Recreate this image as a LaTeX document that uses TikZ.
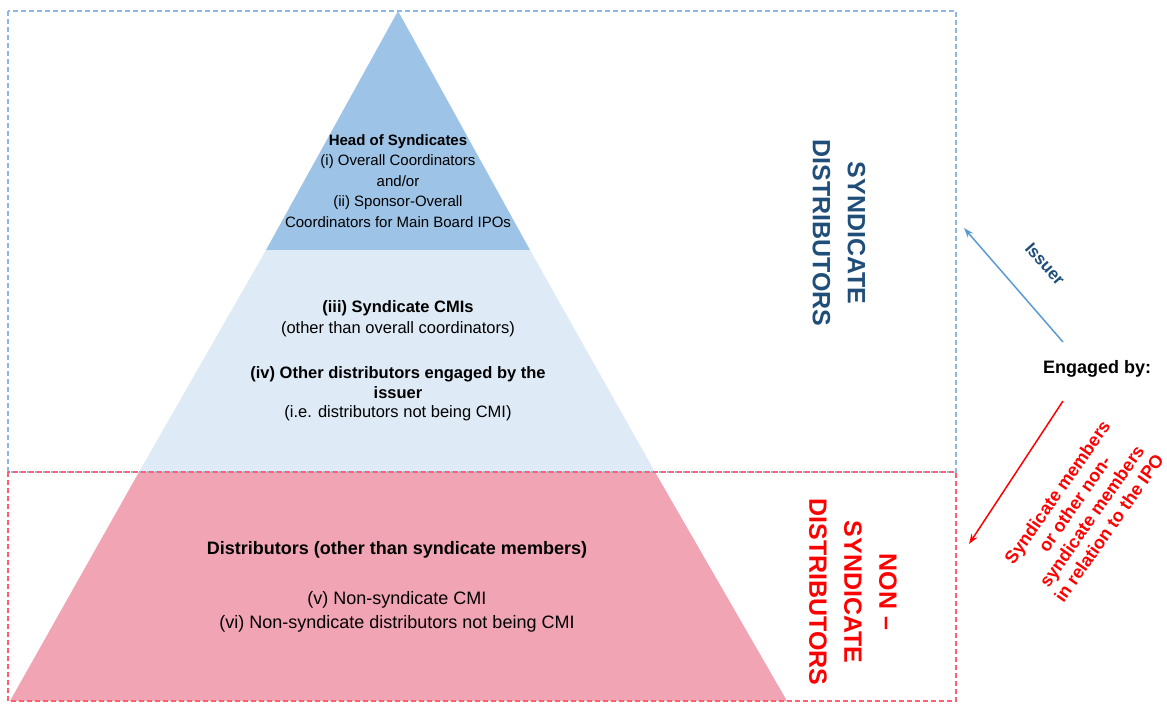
\documentclass[tikz,border=0pt]{standalone}
\usepackage{fontspec}
\setmainfont{Liberation Sans}
\usetikzlibrary{arrows.meta}

\definecolor{tierTop}{HTML}{9DC3E6}
\definecolor{tierMid}{HTML}{DEEBF7}
\definecolor{tierLow}{HTML}{F1A4B4}
\definecolor{synLine}{HTML}{8DB8E2}
\definecolor{nonLine}{HTML}{FF6070}
\definecolor{synText}{HTML}{1F4E79}
\definecolor{issuerLine}{HTML}{5B9BD5}
\definecolor{nonText}{HTML}{FF0000}

\begin{document}
\begin{tikzpicture}[x=1pt,y=-1pt,
  synbox/.style={draw=synLine,line width=1.2pt,dash pattern=on 5pt off 3pt},
  nonbox/.style={draw=nonLine,line width=1.2pt,dash pattern=on 5pt off 3pt},
  tiertext/.style={align=center,inner sep=0pt,text=black},
  sidelabel/.style={align=center,inner sep=0pt,rotate=-90,font=\fontsize{25}{35}\selectfont\bfseries},
  issuerarrow/.style={draw=issuerLine,line width=1.5pt,-{Stealth[length=10pt,width=7pt]}},
  engagearrow/.style={draw=nonText,line width=1.5pt,-{Stealth[length=10pt,width=7pt]}}]
\useasboundingbox (0,0) rectangle (1167,704);

% pyramid tiers
\fill[tierTop] (398,11) -- (530,250) -- (266,250) -- cycle;
\fill[tierMid] (266,250) -- (530,250) -- (655,472) -- (139,472) -- cycle;
\fill[tierLow] (139,472) -- (655,472) -- (787,701) -- (10,701) -- cycle;

% dashed frames
\draw[synbox] (8,11) rectangle (956,472);
\draw[nonbox] (8,472) rectangle (956,701);

% tier texts
\node[tiertext,font=\fontsize{15}{20.5}\selectfont] (head) at (398,181)
  {\textbf{Head of Syndicates}\\(i) Overall Coordinators\\and/or\\(ii) Sponsor-Overall\\Coordinators for Main Board IPOs};
\node[tiertext,font=\fontsize{16.5}{21}\selectfont] (cmis) at (398,319)
  {\textbf{(iii) Syndicate CMIs}\\(other than overall coordinators)};
\node[tiertext,font=\fontsize{16.5}{19.5}\selectfont] (others) at (398,394)
  {\textbf{(iv) Other distributors engaged by the}\\\textbf{issuer}\\(i.e. distributors not being CMI)};
\node[tiertext,font=\fontsize{18}{22}\selectfont] (distr) at (397,550)
  {\textbf{Distributors (other than syndicate members)}};
\node[tiertext,font=\fontsize{18}{24}\selectfont] (nonsyn) at (397,612)
  {(v) Non-syndicate CMI\\(vi) Non-syndicate distributors not being CMI};

% side labels
\node[sidelabel,text=synText] (synlabel) at (839,233) {SYNDICATE\\DISTRIBUTORS};
\node[sidelabel,text=nonText] (nonlabel) at (853,592) {NON –\\SYNDICATE\\DISTRIBUTORS};

% engagement arrows
\node[inner sep=0pt,font=\fontsize{18}{22}\selectfont\bfseries] (engaged) at (1097,369) {Engaged by:};
\coordinate (issuerTail) at (1063,342);
\coordinate (issuerHead) at (964,228);
\coordinate (engageTail) at (1063,401);
\coordinate (engageHead) at (969,544);
\draw[issuerarrow] (issuerTail) -- (issuerHead);
\draw[engagearrow] (engageTail) -- (engageHead);
\node[inner sep=0pt,rotate=-48.5,text=synText,font=\fontsize{17}{20}\selectfont\bfseries] (issuer) at (1045,264) {Issuer};
\node[inner sep=0pt,rotate=55,align=center,text=nonText,font=\fontsize{18}{21}\selectfont\bfseries] (engagers) at (1083,510)
  {Syndicate members\\or other non-\\syndicate members\\in relation to the IPO};
\end{tikzpicture}
\end{document}
